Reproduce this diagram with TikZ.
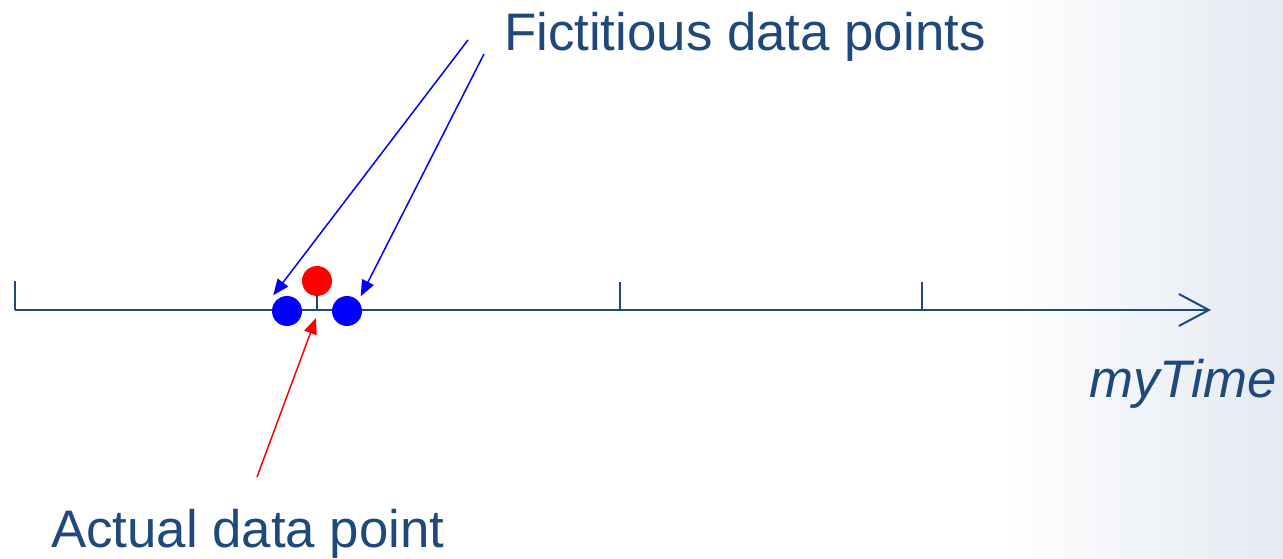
\documentclass[tikz,border=0pt]{standalone}
\usepackage{fontspec}
\setmainfont{Liberation Sans}
\usetikzlibrary{arrows.meta}
\definecolor{txtblue}{HTML}{1F497D}
\definecolor{wash}{HTML}{E4EAF2}
\begin{document}
\begin{tikzpicture}[x=1bp,y=-1bp,
  lbl/.style={text=txtblue,font=\fontsize{53}{58}\selectfont,inner sep=0pt},
  axisline/.style={draw=txtblue,line width=2bp},
  tickline/.style={draw=txtblue,line width=1.5bp},
  bdot/.style={circle,fill=blue,minimum size=30bp,inner sep=0pt},
  rdot/.style={circle,fill=red,minimum size=30bp,inner sep=0pt},
  barrow/.style={draw=blue,line width=1.5bp,-{Triangle[length=16bp,width=13bp]}},
  rarrow/.style={draw=red,line width=1.5bp,-{Triangle[length=16bp,width=13bp]}}]
\useasboundingbox (0,0) rectangle (1283,559);
\fill[white] (0,0) rectangle (1283,559);
\shade[left color=white,right color=wash] (1000,0) rectangle (1283,559);
% axis
\coordinate (a0) at (15,310);
\coordinate (aend) at (1211,310);
\draw[axisline,-{Straight Barb[length=30bp,width=32bp,line width=2bp]}] (a0) -- (aend);
\draw[tickline] (15,281) -- (15,310);
\draw[tickline] (620,282) -- (620,310);
\draw[tickline] (922,282) -- (922,310);
\draw[tickline] (317,295) -- (317,310);
% dots
\node[rdot] (r) at (317,281) {};
\node[bdot] (b1) at (287,311) {};
\node[bdot] (b2) at (347,311) {};
% labels
\node[lbl,anchor=base west] (fic) at (504,51) {Fictitious data points};
\node[lbl,anchor=base west] (act) at (51,547) {Actual data point};
\node[lbl,anchor=base west,font=\fontsize{53}{58}\selectfont\itshape] (mt) at (1089,397) {myTime};
% arrows
\coordinate (s1) at (468,40);
\coordinate (s2) at (484,54);
\coordinate (s3) at (257,477);
\coordinate (r0) at (316,318);
\draw[barrow] (s1) -- ([shift={(-3,-5)}]b1.north west);
\draw[barrow] (s2) -- ([shift={(3,-4)}]b2.north east);
\draw[rarrow] (s3) -- (r0);
\end{tikzpicture}
\end{document}
